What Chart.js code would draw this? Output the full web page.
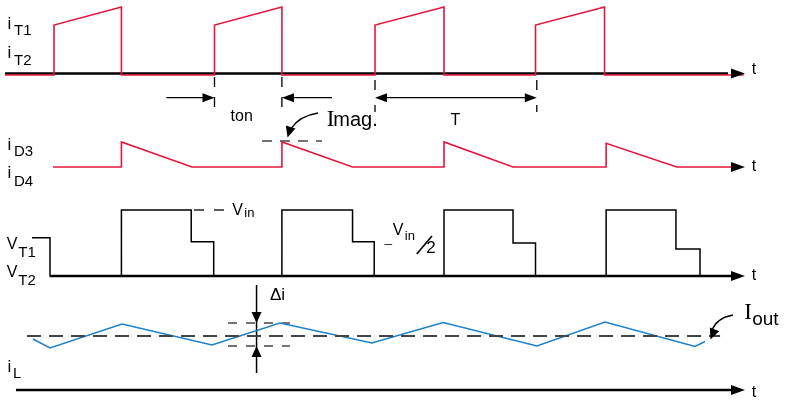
<!DOCTYPE html>
<html><head><meta charset="utf-8">
<script src="https://cdn.jsdelivr.net/npm/chart.js@4/dist/chart.umd.min.js"></script>
<style>html,body{margin:0;padding:0;background:#fff}#wrap{width:786px;height:401px;position:relative}</style>
</head><body><div id="wrap"><canvas id="c"></canvas></div>
<script>
// ---- data (time in units where the switching period T = 10) ----
const iT_on   = [0, 10, 20, 30];
const iT_off  = [4.2, 14.2, 24.3, 34.3];
const iT_low  = [0.73, 0.73, 0.73, 0.73];
const iT_high = [1, 1, 1, 1];

const iD_rise = [4.2, 14.2, 24.3, 34.4];
const iD_end  = [8.6, 18.6, 28.6, 38.8];
const iD_peak = [1, 1, 1, 0.95];

const vT_rise = [4.2, 14.2, 24.3, 34.4];
const vT_step = [8.55, 18.6, 28.6, 38.75];
const vT_fall = [9.95, 19.95, 30.0, 40.25];
const vT_high = [1, 1, 1, 1];
const vT_half = [0.52, 0.52, 0.5, 0.41];
const vT_init = 0.58;

const iL_t = [-1.31, -0.25, 4.24, 9.84, 14.08, 19.81, 24.24, 30.09, 34.33, 39.94, 40.56];
const iL_v = [-0.3, -1.2, 1.2, -0.9, 1.3, -0.7, 1.35, -1.0, 1.4, -1.05, -0.55];
const iL_ripple = [1.3, -1.0];

// ---- layout ----
const X_MIN = -3.3645, X_MAX = 45.607;
const ROW1 = {base: 74, gain: 67};
const ROW2 = {base: 167, gain: 25};
const ROW3 = {base: 276, gain: 66};
const ROW4 = {base: 336, gain: 10};
const AX4 = 390;
const T_START = -3.05, T_END = 42.18;
const RED = '#e3173d', BLUE = '#1b80c8', DASH = '#444';
const y = (r, v) => r.base - v * r.gain;

function iTpts(){ const p=[{x:T_START,y:y(ROW1,0)+1}];
  iT_on.forEach((s,i)=>{ p.push({x:s,y:y(ROW1,0)+1},{x:s,y:y(ROW1,iT_low[i])},{x:iT_off[i],y:y(ROW1,iT_high[i])},{x:iT_off[i],y:y(ROW1,0)+1}); });
  p.push({x:T_END+0.8,y:y(ROW1,0)+1}); return p; }
function iDpts(){ const p=[{x:-0.06,y:y(ROW2,0)}];
  iD_rise.forEach((s,i)=>{ p.push({x:s,y:y(ROW2,0)},{x:s,y:y(ROW2,iD_peak[i])},{x:iD_end[i],y:y(ROW2,0)}); });
  p.push({x:T_END,y:y(ROW2,0)}); return p; }
function vTpts(){ const p=[{x:-1.37,y:y(ROW3,vT_init)},{x:-0.25,y:y(ROW3,vT_init)},{x:-0.25,y:y(ROW3,0)}];
  vT_rise.forEach((s,i)=>{ p.push({x:s,y:y(ROW3,0)},{x:s,y:y(ROW3,vT_high[i])},{x:vT_step[i],y:y(ROW3,vT_high[i])},{x:vT_step[i],y:y(ROW3,vT_half[i])},{x:vT_fall[i],y:y(ROW3,vT_half[i])},{x:vT_fall[i],y:y(ROW3,0)}); });
  return p; }
const iLpts = iL_t.map((t,i)=>({x:t,y:y(ROW4,iL_v[i])}));

function ln(data, color, width, dash){ return {data, borderColor:color, borderWidth:width, borderDash:dash||[], showLine:true, pointRadius:0, tension:0, fill:false, borderCapStyle:'butt', borderJoinStyle:'miter'}; }
const seg = (x1,y1,x2,y2)=>[{x:x1,y:y1},{x:x2,y:y2}];

const datasets = [
  ln(iTpts(), RED, 1.6),
  ln(seg(T_START,ROW1.base-0.5,42.0,ROW1.base-0.5), '#000', 2.4),
  ln(iDpts(), RED, 1.6),
  ln(vTpts(), '#000', 1.5),
  ln(seg(-0.25,ROW3.base,T_END,ROW3.base), '#000', 2.6),
  ln(seg(-1.68,ROW4.base,41.5,ROW4.base), DASH, 2, [14,8]),
  ln(iLpts, BLUE, 1.5),
  ln(seg(-2.37,AX4,T_END,AX4), '#000', 2.6),
  // dimension guide lines
  ln(seg(iT_on[1],77,iT_on[1],108), '#000', 1.3, [10,10]),
  ln(seg(iT_off[1],77,iT_off[1],108), '#000', 1.3, [10,10]),
  ln(seg(iT_on[2],80,iT_on[2],112), '#000', 1.3, [10,15]),
  ln(seg(iT_on[3]+0.08,80,iT_on[3]+0.08,112), '#000', 1.3, [10,15]),
  ln(seg(7.0,97.7,iT_on[1]-0.6,97.7), '#000', 1.2),
  ln(seg(iT_off[1]+0.6,97.7,17.32,97.7), '#000', 1.2),
  ln(seg(iT_on[2]+0.6,97.7,iT_on[3]-0.6,97.7), '#000', 1.2),
  // leaders
  ln(seg(8.72,y(ROW3,1),10.6,y(ROW3,1)), '#000', 1.3, [10,10]),
  ln(seg(12.96,141,16.7,141), DASH, 1.5, [10,8]),
  ln(seg(10.84,y(ROW4,iL_ripple[0]),14.7,y(ROW4,iL_ripple[0])), DASH, 1.5, [9,9]),
  ln(seg(10.84,y(ROW4,iL_ripple[1]),14.7,y(ROW4,iL_ripple[1])), DASH, 1.5, [9,9]),
  ln(seg(12.62,285,12.62,373), '#000', 1.5),
];

const SANS = "'Liberation Sans', Arial, sans-serif";
const SERIF = "'Liberation Serif', 'Times New Roman', serif";

const deco = {
  id:'deco',
  afterDatasetsDraw(chart){
    const c = chart.ctx, sx = chart.scales.x;
    const X = t => sx.getPixelForValue(t);
    function head(tx, ty, ang, len, hw){
      c.save(); c.translate(tx,ty); c.rotate(ang); c.beginPath();
      c.moveTo(0,0); c.lineTo(-len,-hw); c.lineTo(-len,hw); c.closePath();
      c.fillStyle='#000'; c.fill(); c.restore();
    }
    function txt(s, t, py, font, align){ c.save(); c.font=font; c.fillStyle='#000'; c.textAlign=align||'left'; c.textBaseline='alphabetic'; c.fillText(s, X(t), py); c.restore(); }
    // axis arrowheads
    head(X(T_END)+14, ROW1.base-0.5, 0, 14, 5);
    head(X(T_END)+14, ROW2.base, 0, 14, 5);
    head(X(T_END)+14, ROW3.base, 0, 14, 5);
    head(X(T_END)+14, AX4, 0, 14, 5);
    // dimension arrows
    head(X(iT_on[1]), 97.7, 0, 12, 4.5);
    head(X(iT_off[1]), 97.7, Math.PI, 12, 4.5);
    head(X(iT_on[2]), 97.7, Math.PI, 12, 4.5);
    head(X(iT_on[3]+0.08), 97.7, 0, 12, 4.5);
    // delta i arrows
    head(X(12.62), y(ROW4,iL_ripple[0]), Math.PI/2, 11, 5);
    head(X(12.62), y(ROW4,iL_ripple[1]), -Math.PI/2, 11, 5);
    // curved pointers
    function curve(x0,y0,cx,cy,x1,y1){
      c.save(); c.strokeStyle='#000'; c.lineWidth=1.3; c.beginPath();
      c.moveTo(x0,y0); c.quadraticCurveTo(cx,cy,x1,y1); c.stroke(); c.restore();
    }
    curve(X(16.45),113, X(15.3),116, X(14.8),128);
    head(X(14.55),137.5, Math.atan2(10,-3), 11, 5);
    curve(X(42.3),315, X(41.3),318, X(41.0),330);
    head(X(40.9),339.5, Math.atan2(10,-4), 11, 5);
    // row labels
    const lab = (m, sub, py, dy, mt, st, mf) => { txt(m, mt, py, mf+'px '+SANS); txt(sub, st, py+dy, '15px '+SANS); };
    lab('i','T1',28.5,6,-2.9,-2.49,17); lab('i','T2',57.5,7,-2.9,-2.49,17);
    lab('i','D3',150,6,-2.9,-2.49,17); lab('i','D4',178,8,-2.9,-2.49,17);
    lab('V','T1',248.5,8,-2.95,-2.22,16); lab('V','T2',277,8,-2.95,-2.22,16);
    lab('i','L',372,6,-2.9,-2.55,17);
    ['t','t','t','t'].forEach((s,i)=> txt(s, 43.48, [74,171,280,397][i], '16px '+SANS));
    txt('ton', 11.0, 121, '16px '+SANS);
    txt('T', 24.7, 125, '16px '+SANS);
    txt('I', 17.0, 126, '23px '+SERIF);
    txt('mag.', 17.4, 126, '20px '+SANS);
    txt('I', 43.0, 319, '23px '+SERIF);
    txt('out', 43.5, 325, '19px '+SANS);
    txt('V', 11.1, 215, '16px '+SANS);
    txt('in', 11.86, 217, '13px '+SANS);
    txt('_', 20.6, 242, '13px '+SANS);
    txt('V', 21.1, 235, '16px '+SANS);
    txt('in', 21.86, 240, '13px '+SANS);
    c.save(); c.strokeStyle='#000'; c.lineWidth=1.6; c.beginPath(); c.moveTo(X(22.6),254); c.lineTo(X(23.55),236); c.stroke(); c.restore();
    txt('2', 23.2, 253, '17px '+SANS);
    txt('\u0394i', 13.45, 300, '17px '+SANS);
  }
};

new Chart(document.getElementById('c'), {
  type:'scatter',
  data:{datasets},
  options:{
    responsive:true, maintainAspectRatio:false, animation:false,
    layout:{padding:0},
    plugins:{legend:{display:false}, tooltip:{enabled:false}},
    scales:{
      x:{type:'linear', min:X_MIN, max:X_MAX, display:false},
      y:{type:'linear', min:0, max:401, reverse:true, display:false}
    }
  },
  plugins:[deco]
});
</script></body></html>
